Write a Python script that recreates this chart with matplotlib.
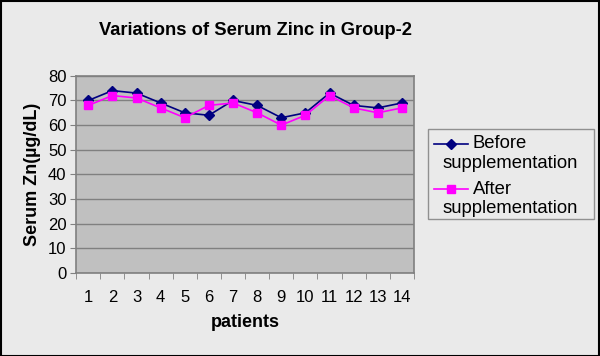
import matplotlib
matplotlib.use("Agg")
import matplotlib.pyplot as plt
from matplotlib.lines import Line2D
import numpy as np

plt.rcParams['font.family'] = ['Liberation Sans', 'DejaVu Sans']

patients = [str(i) for i in range(1, 15)]
before = [70, 74, 73, 69, 65, 64, 70, 68, 63, 65, 73, 68, 67, 69]
after = [68, 72, 71, 67, 63, 68, 69, 65, 60, 64, 72, 67, 65, 67]
series_names = [('Before', 'supplementation'), ('After', 'supplementation')]
colors = ['#000080', '#FF00FF']
markers = ['D', 's']
msizes = [5, 5.2]

W, H = 600, 356
fig = plt.figure(figsize=(6, 3.56), dpi=100, facecolor='#EAEAEA')
fig.patches.append(plt.Rectangle((0.001, 0.001), 0.997, 0.996, transform=fig.transFigure,
                                 fill=False, edgecolor='black', linewidth=1.5))
ax = fig.add_axes([0.127, 0.233, 0.563, 0.554])
ax.set_facecolor('#C0C0C0')

x = np.arange(1, len(patients) + 1)
for vals, c, m, ms in zip([before, after], colors, markers, msizes):
    ax.plot(x, vals, color=c, marker=m, markersize=ms, linewidth=1.2)

ax.set_xlim(0.5, 14.5)
ax.set_ylim(0, 80)
ax.set_yticks(range(0, 81, 10))
ax.set_xticks(x)
ax.set_xticklabels(patients)
ax.set_xticks(np.arange(0.5, 15, 1), minor=True)
ax.tick_params(axis='x', which='major', length=0, labelsize=12, pad=12)
ax.tick_params(axis='x', which='minor', length=4, direction='out', color='#808080')
ax.tick_params(axis='y', length=4, labelsize=12, color='#808080', pad=3)
ax.grid(axis='y', color='#808080', linewidth=1)
ax.set_axisbelow(True)
for s in ax.spines.values():
    s.set_color('#808080')
    s.set_linewidth(1.2)

ax.set_xlabel('patients', fontsize=13, fontweight='bold', labelpad=7)
ax.set_ylabel('Serum Zn(µg/dL)', fontsize=13, fontweight='bold', labelpad=5)
fig.text(0.426, 0.915, 'Variations of Serum Zinc in Group-2', ha='center', va='center',
         fontsize=13.2, fontweight='bold')

# Excel-style legend with wrapped labels
def fx(px):
    return px / W

def fy(py):
    return 1 - py / H

fig.patches.append(plt.Rectangle((fx(428), fy(219)), fx(594) - fx(428), fy(129) - fy(219),
                                 transform=fig.transFigure, facecolor='#EAEAEA',
                                 edgecolor='#909090', linewidth=1))
rows = [144, 189]
for (l1, l2), c, m, ms, yy in zip(series_names, colors, markers, msizes, rows):
    fig.add_artist(Line2D([fx(434), fx(468)], [fy(yy), fy(yy)], color=c, linewidth=1.2,
                          transform=fig.transFigure))
    fig.add_artist(Line2D([fx(451)], [fy(yy)], color=c, marker=m, markersize=ms,
                          linestyle='none', transform=fig.transFigure))
    fig.text(fx(473), fy(yy), l1, ha='left', va='center', fontsize=13.3)
    fig.text(fx(443), fy(yy + 19.5), l2, ha='left', va='center', fontsize=13.3)

fig.savefig('out.png', dpi=100, facecolor=fig.get_facecolor())
